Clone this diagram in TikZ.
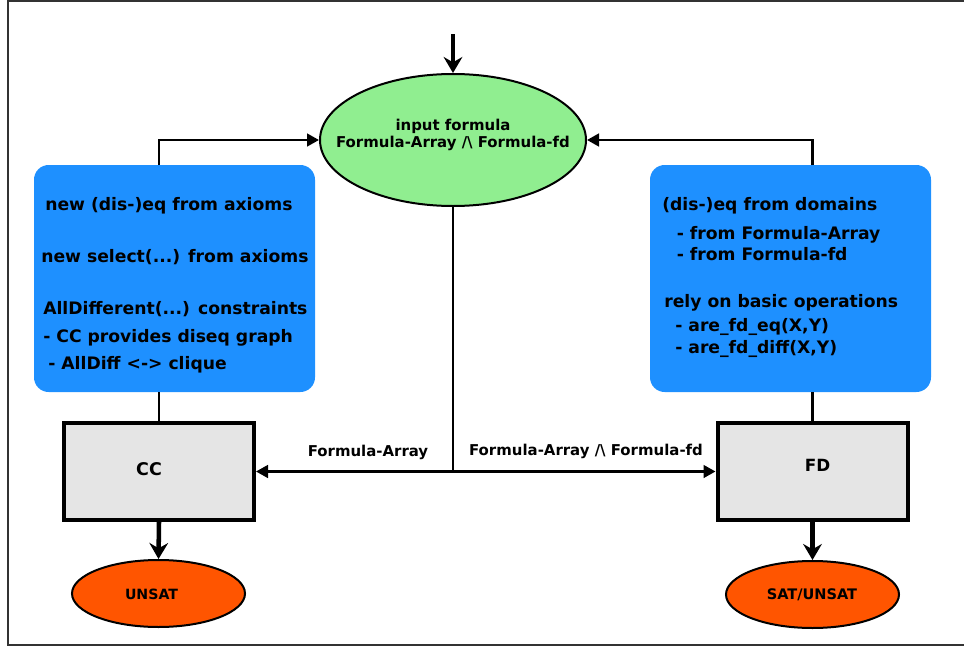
\documentclass[tikz,border=0pt]{standalone}
\usepackage{fontspec}
\setmainfont{DejaVu Sans}
\usetikzlibrary{shapes.geometric,arrows.meta}
\definecolor{boxblue}{HTML}{1E90FF}
\definecolor{ellgreen}{HTML}{90EE90}
\definecolor{resorange}{HTML}{FF5500}
\definecolor{procgray}{HTML}{E5E5E5}
\definecolor{framegray}{HTML}{333333}
\begin{document}
\begin{tikzpicture}[x=0.75pt,y=-0.75pt,
  infobox/.style={fill=boxblue, draw=none, rounded corners=11pt, inner sep=0pt, outer sep=0pt,
    minimum width=210.75pt, minimum height=170.25pt},
  procbox/.style={rectangle, fill=procgray, draw=black, line width=3pt, inner sep=0pt,
    minimum width=142.5pt, minimum height=72.75pt},
  inputell/.style={ellipse, fill=ellgreen, draw=black, line width=1.5pt, inner sep=0pt,
    minimum width=199.5pt, minimum height=99pt},
  resell/.style={ellipse, fill=resorange, draw=black, line width=1.5pt, inner sep=0pt,
    minimum width=129.75pt, minimum height=50.25pt},
  boxtxt/.style={anchor=base west, inner sep=0pt, font=\bfseries\fontsize{12.9}{15}\selectfont},
  midtxt/.style={anchor=base, inner sep=0pt, font=\bfseries\fontsize{11.2}{13}\selectfont},
  thinarrow/.style={line width=1.9pt, -{Triangle[length=9pt,width=9.5pt]}},
  thinline/.style={line width=1.9pt},
  thickarrow/.style={line width=3.4pt, -{Stealth[length=12pt,width=14pt,inset=4pt]}}
]
\useasboundingbox (0,0) rectangle (964,646);
\clip (0,0) rectangle (964,646);
\draw[framegray, line width=1.2pt] (8,1) rectangle (990,645);

% blue boxes
\node[infobox] (lbox) at (174.5,278.5) {};
\node[infobox] (rbox) at (790.5,278.5) {};

% processing boxes
\node[procbox] (cc) at (159,471.5) {};
\node[procbox] (fd) at (812.5,471.5) {};

% ellipses
\node[inputell] (input) at (453,140) {};
\node[resell] (unsat) at (158.5,593.5) {};
\node[resell] (satunsat) at (812.5,594.5) {};

% texts
\node[midtxt] (in1) at (453,130) {input formula};
\node[midtxt] (in2) at (453,147.7) {Formula-Array /\textbackslash\ Formula-fd};

\node[boxtxt] (l1) at (45,210) {new (dis-)eq from axioms};
\node[boxtxt] (l2) at (41,262) {new select(...) from axioms};
\node[boxtxt] (l3) at (43,314) {AllDifferent(...) constraints};
\node[boxtxt] (l4) at (43,342.5) {- CC provides diseq graph};
\node[boxtxt] (l5) at (48,369) {- AllDiff <-> clique};

\node[boxtxt] (r1) at (662,210) {(dis-)eq from domains};
\node[boxtxt] (r2) at (676.5,239) {- from Formula-Array};
\node[boxtxt] (r3) at (676.5,260) {- from Formula-fd};
\node[boxtxt] (r4) at (664,307) {rely on basic operations};
\node[boxtxt] (r5) at (675,331.5) {- are\_fd\_eq(X,Y)};
\node[boxtxt] (r6) at (675,353) {- are\_fd\_diff(X,Y)};

\node[anchor=base, inner sep=0pt, font=\bfseries\fontsize{13.1}{15}\selectfont] (cct) at (149,475) {CC};
\node[anchor=base, inner sep=0pt, font=\bfseries\fontsize{12.6}{15}\selectfont] (fdt) at (817.5,471.5) {FD};
\node[anchor=base, inner sep=0pt, font=\bfseries\fontsize{10.6}{12}\selectfont] (unt) at (151.5,599) {UNSAT};
\node[anchor=base, inner sep=0pt, font=\bfseries\fontsize{10.9}{13}\selectfont] (sut) at (812,599) {SAT/UNSAT};

\node[midtxt] (lab1) at (368,456.5) {Formula-Array};
\node[midtxt] (lab2) at (586,455) {Formula-Array /\textbackslash\ Formula-fd};

% connectors
\coordinate (topin) at (453,34);
\coordinate (junc) at (453,471.5);
\draw[thickarrow] (topin) -- (input.north);
\draw[thinarrow] (lbox.north -| cc) |- (input.west);
\draw[thinarrow] (rbox.north -| fd) |- (input.east);
\draw[thinline] (lbox.south -| cc) -- (cc.north);
\draw[thinline] (rbox.south -| fd) -- (fd.north);
\draw[thinline] (input.south) -- (junc);
\draw[thinarrow] (junc) -- (cc.east);
\draw[thinarrow] (junc) -- (fd.west);
\draw[thickarrow] (cc.south) -- (unsat.north);
\draw[thickarrow] (fd.south) -- (satunsat.north);
\end{tikzpicture}
\end{document}
